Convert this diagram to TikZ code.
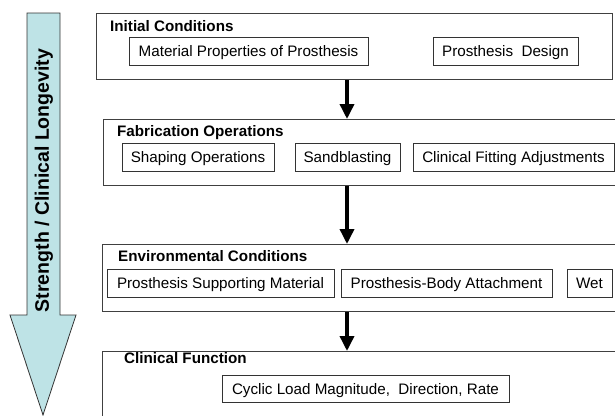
\documentclass[tikz,border=0pt]{standalone}
\usepackage{fontspec}
\setmainfont{Liberation Sans}
\usetikzlibrary{arrows.meta,positioning}
\definecolor{longcyan}{RGB}{190,227,230}
\begin{document}
\begin{tikzpicture}[x=1pt,y=-1pt,
  stage box/.style={draw=black!75,line width=1pt,anchor=north west,inner sep=0pt},
  item box/.style={draw=black!80,line width=0.9pt,minimum height=28pt,inner sep=0pt,
    text height=11pt,text depth=0pt,font=\fontsize{15.2}{18}\selectfont},
  stage title/.style={anchor=base west,inner sep=0pt,font=\fontsize{15.2}{18}\selectfont\bfseries},
  flow/.style={-{Triangle[width=14pt,length=15pt]},line width=3.5pt}]

  \useasboundingbox (0,0) rectangle (615,415);
  \clip (0,0) rectangle (615,415);

  % big arrow on the left
  \filldraw[fill=longcyan,draw=black!80,line width=0.8pt]
    (27,13) -- (60,13) -- (60,315) -- (76,315) -- (43,415) -- (10,315) -- (27,315) -- cycle;
  \node[rotate=90,font=\fontsize{19.5}{22}\selectfont\bfseries] (axis label) at (44,180.5)
    {Strength / Clinical Longevity};

  % stages
  \node[stage box,minimum width=516pt,minimum height=66pt] (init) at (96,13) {};
  \node[stage box,minimum width=540pt,minimum height=66pt] (fab)  at (103,119) {};
  \node[stage box,minimum width=540pt,minimum height=67pt] (env)  at (102,244) {};
  \node[stage box,minimum width=540pt,minimum height=90pt] (func) at (102,351) {};

  \node[stage title] (init title) at (110,31)    {Initial Conditions};
  \node[stage title] (fab title)  at (117,136.5) {Fabrication Operations};
  \node[stage title] (env title)  at (118,261.5) {Environmental Conditions};
  \node[stage title] (func title) at (124,363.5) {Clinical Function};

  % items
  \node[item box,minimum width=239pt] (material) at (248.5,51) {Material Properties of Prosthesis};
  \node[item box,minimum width=145pt] (design)   at (505.5,51) {Prosthesis~ Design};

  \node[item box,minimum width=152pt] (shaping)  at (198,157)   {Shaping Operations};
  \node[item box,minimum width=105pt] (sand)     at (347.5,157) {Sandblasting};
  \node[item box,minimum width=201pt] (fitting)  at (513.5,157) {Clinical Fitting Adjustments};

  \node[item box,minimum width=227pt] (support)  at (220.5,283) {Prosthesis Supporting Material};
  \node[item box,minimum width=211pt] (attach)   at (446.5,283) {Prosthesis-Body Attachment};
  \node[item box,minimum width=45pt]  (wet)      at (589.5,283) {Wet};

  \node[item box,minimum width=287pt,minimum height=27pt] (cyclic) at (365.5,388.5)
    {Cyclic Load Magnitude,~ Direction, Rate};

  % flow between stages
  \coordinate (flow axis) at (347,0);
  \path[flow]
  (init.south -| flow axis) edge (fab.north -| flow axis)
  (fab.south -| flow axis)  edge (env.north -| flow axis)
  (env.south -| flow axis)  edge (func.north -| flow axis);
\end{tikzpicture}
\end{document}
